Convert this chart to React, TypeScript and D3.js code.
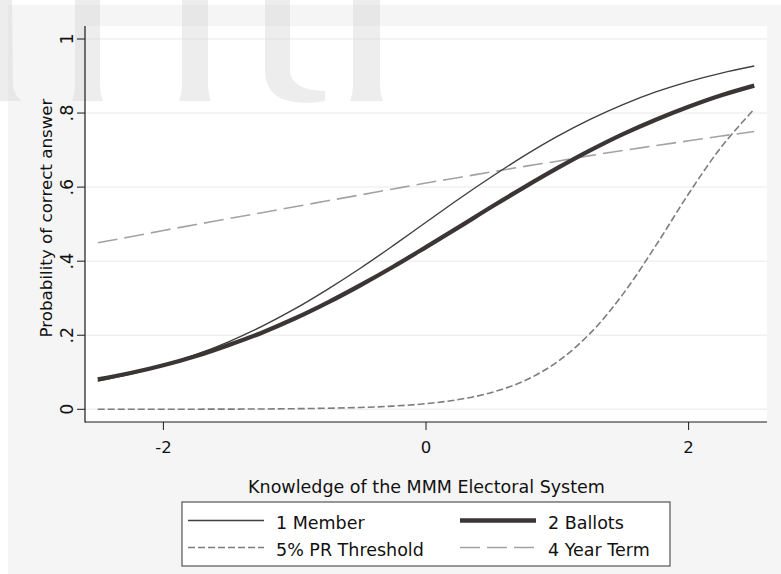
import React, { useEffect, useRef } from "react";
import * as d3 from "d3";

// knowledge score (x) and predicted probability for each rule question
const knowledge = [-2.5, -2.25, -2, -1.75, -1.5, -1.25, -1, -0.75, -0.5, -0.25, 0, 0.25, 0.5, 0.75, 1, 1.25, 1.5, 1.75, 2, 2.25, 2.5];
const oneMember = [0.076, 0.095, 0.119, 0.148, 0.183, 0.224, 0.271, 0.324, 0.381, 0.442, 0.505, 0.568, 0.628, 0.685, 0.737, 0.783, 0.823, 0.857, 0.885, 0.908, 0.927];
const twoBallots = [0.081, 0.098, 0.119, 0.144, 0.174, 0.207, 0.245, 0.288, 0.335, 0.385, 0.438, 0.492, 0.547, 0.6, 0.651, 0.699, 0.743, 0.782, 0.817, 0.848, 0.874];
const prThreshold = [0.0001, 0.0001, 0.0002, 0.0003, 0.0005, 0.0009, 0.0016, 0.0029, 0.005, 0.0087, 0.0152, 0.0264, 0.0454, 0.0771, 0.128, 0.205, 0.311, 0.442, 0.582, 0.709, 0.811];
const fourYearTerm = [0.45, 0.466, 0.483, 0.499, 0.515, 0.531, 0.547, 0.563, 0.579, 0.595, 0.611, 0.626, 0.641, 0.656, 0.67, 0.685, 0.699, 0.712, 0.725, 0.738, 0.75];

const yTicks = [0, 0.2, 0.4, 0.6, 0.8, 1];
const yTickLabels = ["0", ".2", ".4", ".6", ".8", "1"];
const xTicks = [-2, 0, 2];

const seriesNames = ["1 Member", "2 Ballots", "5% PR Threshold", "4 Year Term"];

const FONT = "'DejaVu Sans', Verdana, sans-serif";

export default function App() {
    const svgRef = useRef<SVGSVGElement>(null);

    useEffect(() => {
        const svg = d3.select(svgRef.current);
        svg.selectAll("*").remove();

        const width = 781, height = 574;
        const left = 85, right = 767, top = 26, bottom = 422;

        const x = d3.scaleLinear().domain([-2, 2]).range([163.4, 688.6]);
        const y = d3.scaleLinear().domain([0, 1]).range([409.3, 39]);

        // outer background
        svg.append("rect").attr("width", width).attr("height", height).attr("fill", "#ffffff");
        svg.append("rect").attr("x", 8).attr("y", 5).attr("width", width - 8).attr("height", height - 5).attr("fill", "#f5f5f5");

        // plot region
        svg.append("rect").attr("x", left).attr("y", top).attr("width", right - left).attr("height", bottom - top).attr("fill", "#ffffff");

        // grid lines
        svg.selectAll("line.grid")
            .data(yTicks)
            .join("line")
            .attr("class", "grid")
            .attr("x1", left).attr("x2", right)
            .attr("y1", (d) => y(d)).attr("y2", (d) => y(d))
            .attr("stroke", "#f0f0f0")
            .attr("stroke-width", 1.5);

        // faint watermark strokes across the top
        const wm = svg.append("g").attr("fill", "#d6d6d6").attr("opacity", 0.42);
        wm.append("path").attr("d", "M0,0 L12,0 L13,86 Q15,97 22,101 L0,101 Z");
        wm.append("path").attr("d", "M75,0 L100,0 L100,86 Q101,97 103,101 L72,101 Q74,97 75,86 Z");
        wm.append("path").attr("d", "M182,0 L208,0 L208,86 Q209,97 211,101 L179,101 Q181,97 182,86 Z");
        wm.append("path").attr("d", "M265,0 L290,0 L290,72 Q292,90 325,91 L325,101 Q300,106 280,98 Q265,90 265,70 Z");
        wm.append("path").attr("d", "M353,0 L380,0 L380,86 Q381,97 383,101 L350,101 Q352,97 353,86 Z");

        // series lines
        const line = d3.line<number>()
            .x((d, i) => x(knowledge[i]))
            .y((d) => y(d))
            .curve(d3.curveCatmullRom.alpha(0.5));

        const styles = [
            { data: fourYearTerm, stroke: "#a3a3a3", width: 1.6, dash: "20 7" },
            { data: prThreshold, stroke: "#7d7d7d", width: 1.6, dash: "7 3" },
            { data: oneMember, stroke: "#3f3f3f", width: 1.4, dash: null },
            { data: twoBallots, stroke: "#3b3535", width: 4.3, dash: null },
        ];

        svg.selectAll("path.series")
            .data(styles)
            .join("path")
            .attr("class", "series")
            .attr("d", (s) => line(s.data))
            .attr("fill", "none")
            .attr("stroke", (s) => s.stroke)
            .attr("stroke-width", (s) => s.width)
            .attr("stroke-dasharray", (s) => s.dash);

        // axes
        svg.append("line").attr("x1", left).attr("x2", left).attr("y1", top).attr("y2", bottom + 0.5).attr("stroke", "#1a1a1a").attr("stroke-width", 1.2);
        svg.append("line").attr("x1", left).attr("x2", right).attr("y1", bottom).attr("y2", bottom).attr("stroke", "#1a1a1a").attr("stroke-width", 1.2);

        svg.selectAll("line.ytick")
            .data(yTicks)
            .join("line")
            .attr("class", "ytick")
            .attr("x1", left - 8).attr("x2", left)
            .attr("y1", (d) => y(d)).attr("y2", (d) => y(d))
            .attr("stroke", "#1a1a1a");

        svg.selectAll("text.ylab")
            .data(yTicks)
            .join("text")
            .attr("class", "ylab")
            .attr("transform", (d) => `translate(73,${y(d)}) rotate(-90)`)
            .attr("text-anchor", "middle")
            .attr("font-family", FONT)
            .attr("font-size", 17.5)
            .attr("fill", "#111")
            .text((d, i) => yTickLabels[i]);

        svg.selectAll("line.xtick")
            .data(xTicks)
            .join("line")
            .attr("class", "xtick")
            .attr("x1", (d) => x(d)).attr("x2", (d) => x(d))
            .attr("y1", bottom).attr("y2", bottom + 8)
            .attr("stroke", "#1a1a1a");

        svg.selectAll("text.xlab")
            .data(xTicks)
            .join("text")
            .attr("class", "xlab")
            .attr("x", (d) => x(d))
            .attr("y", 453)
            .attr("text-anchor", "middle")
            .attr("font-family", FONT)
            .attr("font-size", 16.5)
            .attr("fill", "#111")
            .text((d) => String(d));

        // axis titles
        svg.append("text")
            .attr("transform", "translate(51.5,218) rotate(-90)")
            .attr("text-anchor", "middle")
            .attr("font-family", FONT)
            .attr("font-size", 16.7)
            .attr("fill", "#111")
            .text("Probability of correct answer");

        svg.append("text")
            .attr("x", 426.5)
            .attr("y", 492.5)
            .attr("text-anchor", "middle")
            .attr("font-family", FONT)
            .attr("font-size", 17.5)
            .attr("fill", "#111")
            .text("Knowledge of the MMM Electoral System");

        // legend
        svg.append("rect")
            .attr("x", 182).attr("y", 502).attr("width", 488).attr("height", 64)
            .attr("fill", "#ffffff").attr("stroke", "#555").attr("stroke-width", 1.2);

        const legendItems = [
            { name: seriesNames[0], col: 0, row: 0, style: styles[2] },
            { name: seriesNames[1], col: 1, row: 0, style: styles[3] },
            { name: seriesNames[2], col: 0, row: 1, style: styles[1] },
            { name: seriesNames[3], col: 1, row: 1, style: styles[0] },
        ];
        const colX = [188, 460];
        const rowY = [520.5, 547.5];

        const lg = svg.selectAll("g.legend")
            .data(legendItems)
            .join("g")
            .attr("class", "legend");
        lg.append("line")
            .attr("x1", (d) => colX[d.col]).attr("x2", (d) => colX[d.col] + 76)
            .attr("y1", (d) => rowY[d.row]).attr("y2", (d) => rowY[d.row])
            .attr("stroke", (d) => d.style.stroke)
            .attr("stroke-width", (d) => d.style.width)
            .attr("stroke-dasharray", (d) => d.style.dash);
        lg.append("text")
            .attr("x", (d) => colX[d.col] + 88)
            .attr("y", (d) => rowY[d.row] + 8.5)
            .attr("font-family", FONT)
            .attr("font-size", 17.5)
            .attr("fill", "#111")
            .text((d) => d.name);
    }, []);

    return (
        <div style={{ position: "absolute", left: 0, top: 0 }}>
            <svg ref={svgRef} width={781} height={574} style={{ display: "block" }}></svg>
        </div>
    );
}
